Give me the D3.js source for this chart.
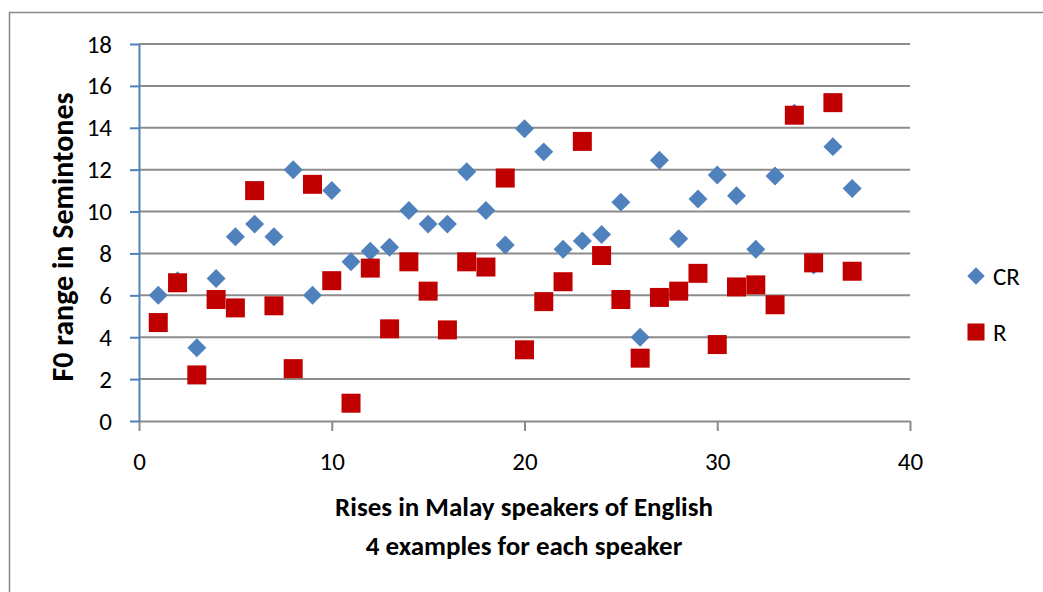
<!DOCTYPE html>
<meta charset="utf-8">
<script src="https://d3js.org/d3.v7.min.js"></script>
<style>
  body { margin: 0; background: #fff; }
  svg text { font-family: Carlito, Calibri, Lato, "Open Sans", sans-serif; fill: #000; }
</style>
<div id="chart"></div>
<script>
// data
var rises = d3.range(1, 38); // 1..37
var crValues = [6.0, 6.7, 3.5, 6.8, 8.8, 9.4, 8.8, 12.0, 6.0, 11.0,
                7.6, 8.1, 8.3, 10.05, 9.4, 9.4, 11.9, 10.05, 8.4, 13.95,
                12.85, 8.2, 8.6, 8.9, 10.45, 4.0, 12.45, 8.7, 10.6, 11.75,
                10.75, 8.2, 11.7, 14.7, 7.45, 13.1, 11.1];
var rValues = [4.7, 6.6, 2.2, 5.8, 5.4, 11.0, 5.5, 2.5, 11.3, 6.7,
               0.85, 7.3, 4.4, 7.6, 6.2, 4.35, 7.6, 7.35, 11.6, 3.4,
               5.7, 6.65, 13.35, 7.9, 5.8, 3.0, 5.9, 6.2, 7.05, 3.65,
               6.4, 6.5, 5.55, 14.6, 7.55, 15.2, 7.15];
var xTicks = [0, 10, 20, 30, 40];
var yTicks = [0, 2, 4, 6, 8, 10, 12, 14, 16, 18];
var seriesNames = ["CR", "R"];

var W = 1043, H = 592;
var margin = {top: 44, left: 139},
    width = 910 - 139,
    height = 421 - 44;

var svg = d3.select("#chart").append("svg")
  .attr("width", W)
  .attr("height", H);

// outer chart border
svg.append("rect")
  .attr("x", 9.5).attr("y", 12.5)
  .attr("width", W + 20).attr("height", H + 20)
  .attr("fill", "none")
  .attr("stroke", "#868686")
  .attr("stroke-width", 1.5);

var g = svg.append("g")
  .attr("transform", "translate(" + margin.left + "," + margin.top + ")");

var x = d3.scaleLinear().domain([0, 40]).range([0, width]);
var y = d3.scaleLinear().domain([0, 18]).range([height, 0]);

// gridlines
g.append("g")
  .selectAll("line")
  .data(yTicks.filter(function(d) { return d > 0; }))
  .enter().append("line")
  .attr("x1", 0).attr("x2", width)
  .attr("y1", function(d) { return y(d); })
  .attr("y2", function(d) { return y(d); })
  .attr("stroke", "#8c8c8c")
  .attr("stroke-width", 2);

// x axis
var xAxis = g.append("g")
  .attr("transform", "translate(0," + height + ")")
  .call(d3.axisBottom(x).tickValues(xTicks).tickSize(10).tickSizeOuter(0).tickPadding(21));
xAxis.select(".domain").attr("stroke", "#8c8c8c").attr("stroke-width", 2);
xAxis.selectAll(".tick line").attr("stroke", "#8c8c8c").attr("stroke-width", 2);
xAxis.selectAll(".tick text").style("font-size", "25px").attr("dy", "0.71em");

// y axis
var yAxis = g.append("g")
  .call(d3.axisLeft(y).tickValues(yTicks).tickSize(9).tickSizeOuter(0).tickPadding(18));
yAxis.select(".domain").attr("stroke", "#4f81bd").attr("stroke-width", 2);
yAxis.selectAll(".tick line").attr("stroke", "#4f81bd").attr("stroke-width", 2);
yAxis.selectAll(".tick text").style("font-size", "25px");

// axis titles
svg.append("text")
  .attr("x", 524).attr("y", 516)
  .attr("text-anchor", "middle")
  .style("font-size", "27px").style("font-weight", "bold")
  .text("Rises in Malay speakers of English");
svg.append("text")
  .attr("x", 524).attr("y", 555)
  .attr("text-anchor", "middle")
  .style("font-size", "27px").style("font-weight", "bold")
  .text("4 examples for each speaker");
svg.append("text")
  .attr("transform", "translate(73,237) rotate(-90)")
  .attr("text-anchor", "middle")
  .style("font-size", "30px").style("font-weight", "bold")
  .text("F0 range in Semintones");

// markers
var diamond = d3.symbol().type(d3.symbolSquare).size(180);
var square = d3.symbol().type(d3.symbolSquare).size(361);

g.append("g").selectAll("path")
  .data(rises)
  .enter().append("path")
  .attr("d", diamond)
  .attr("transform", function(d, i) {
    return "translate(" + x(d) + "," + y(crValues[i]) + ") rotate(45)";
  })
  .attr("fill", "#4f81bd");

g.append("g").selectAll("path")
  .data(rises)
  .enter().append("path")
  .attr("d", square)
  .attr("transform", function(d, i) {
    return "translate(" + x(d) + "," + y(rValues[i]) + ")";
  })
  .attr("fill", "#c00000");

// legend
var legend = svg.append("g");
legend.append("path")
  .attr("d", d3.symbol().type(d3.symbolSquare).size(150))
  .attr("transform", "translate(976,276) rotate(45)")
  .attr("fill", "#4f81bd");
legend.append("path")
  .attr("d", d3.symbol().type(d3.symbolSquare).size(290))
  .attr("transform", "translate(976,332)")
  .attr("fill", "#c00000");
legend.selectAll("text")
  .data(seriesNames)
  .enter().append("text")
  .attr("x", 993)
  .attr("y", function(d, i) { return i === 0 ? 276 : 332; })
  .attr("dy", "0.35em")
  .style("font-size", "25px")
  .text(function(d) { return d; });
</script>
